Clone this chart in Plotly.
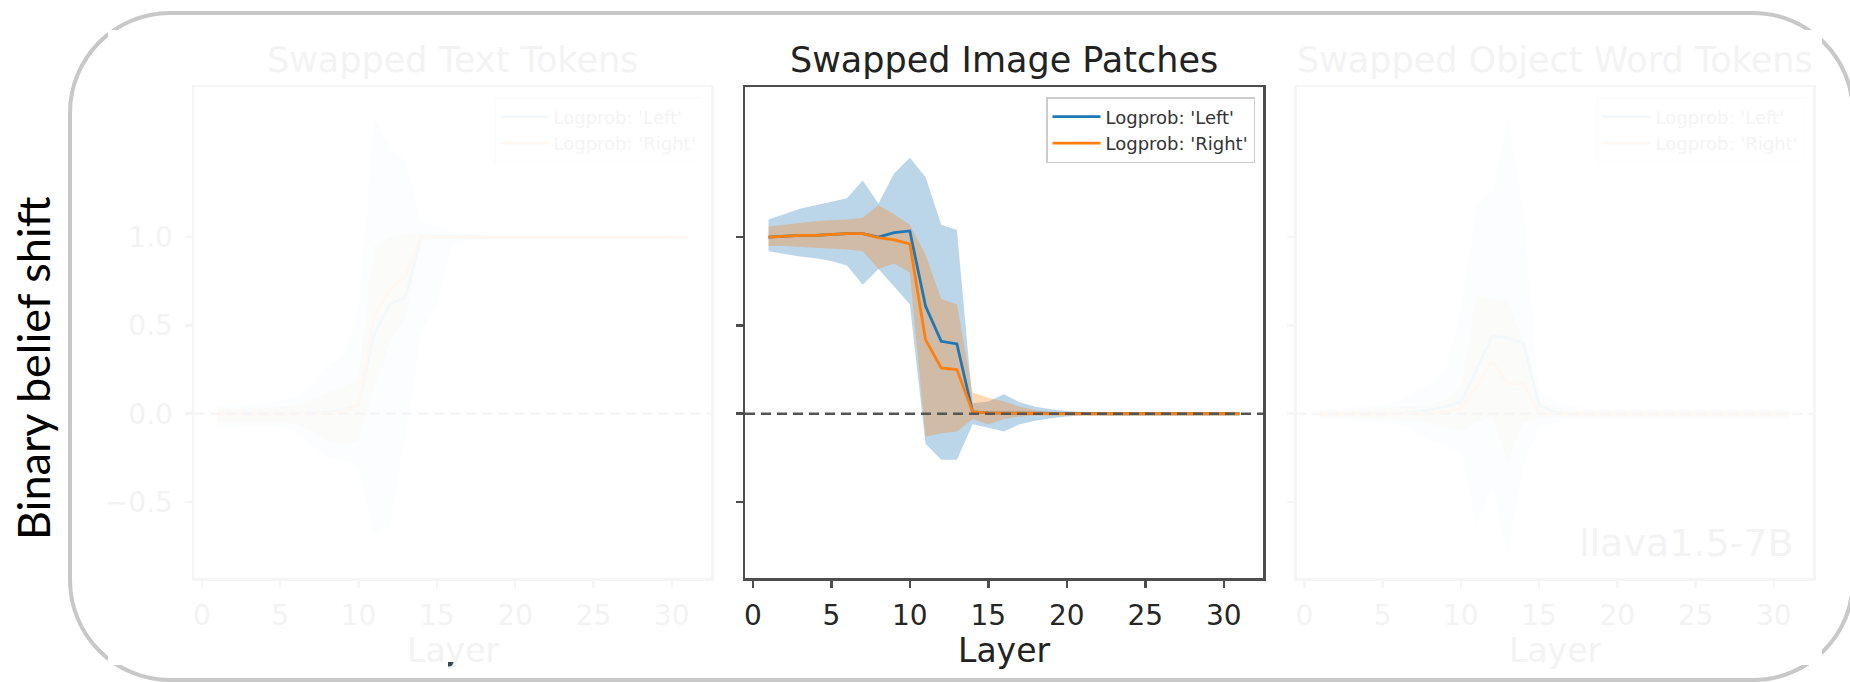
import plotly.graph_objects as go

W, H = 1850, 682

# ---------------- data ----------------
layers = list(range(1, 32))

# Middle panel: Swapped Image Patches
img_left_mean = [1.00, 1.005, 1.01, 1.01, 1.015, 1.02, 1.02, 1.00, 1.025, 1.035, 0.61, 0.41, 0.395, 0.01, 0.005,
                 0.004, 0.003, 0.002, 0.0, 0.0, 0.0, 0.0, 0.0, 0.0, 0.0, 0.0, 0.0, 0.0, 0.0, 0.0, 0.0]
img_right_mean = [1.00, 1.005, 1.01, 1.01, 1.015, 1.02, 1.02, 0.997, 0.985, 0.962, 0.42, 0.26, 0.25, 0.01, 0.005,
                  0.003, 0.002, 0.0, 0.0, 0.0, 0.0, 0.0, 0.0, 0.0, 0.0, 0.0, 0.0, 0.0, 0.0, 0.0, 0.0]
img_left_upper = [1.10, 1.13, 1.16, 1.18, 1.20, 1.22, 1.32, 1.19, 1.36, 1.45, 1.34, 1.07, 1.04, 0.06, 0.07,
                  0.11, 0.065, 0.04, 0.025, 0.015, 0.01, 0.008, 0.007, 0.006, 0.006, 0.005, 0.005, 0.005, 0.005, 0.005, 0.005]
img_left_lower = [0.92, 0.905, 0.89, 0.88, 0.865, 0.84, 0.73, 0.82, 0.72, 0.62, -0.17, -0.26, -0.26, -0.06, -0.08,
                  -0.10, -0.06, -0.04, -0.025, -0.015, -0.01, -0.008, -0.007, -0.006, -0.006, -0.005, -0.005, -0.005, -0.005, -0.005, -0.005]
img_right_upper = [1.06, 1.07, 1.08, 1.09, 1.095, 1.10, 1.11, 1.18, 1.13, 1.07, 0.90, 0.65, 0.62, 0.12, 0.09,
                   0.07, 0.04, 0.02, 0.01, 0.006, 0.005, 0.005, 0.005, 0.005, 0.005, 0.005, 0.005, 0.005, 0.005, 0.005, 0.005]
img_right_lower = [0.95, 0.95, 0.945, 0.94, 0.935, 0.93, 0.92, 0.82, 0.85, 0.80, -0.13, -0.11, -0.10, -0.03, -0.06,
                   -0.03, -0.015, -0.01, -0.006, -0.005, -0.005, -0.005, -0.005, -0.005, -0.005, -0.005, -0.005, -0.005, -0.005, -0.005, -0.005]

# Left panel (faded): Swapped Text Tokens
txt_left_mean = [0.0, 0.0, 0.0, 0.0, 0.0, 0.0, 0.005, 0.01, 0.02, 0.05, 0.45, 0.62, 0.66, 1.0, 1.0,
                 1.0, 1.0, 1.0, 1.0, 1.0, 1.0, 1.0, 1.0, 1.0, 1.0, 1.0, 1.0, 1.0, 1.0, 1.0, 1.0]
txt_right_mean = [0.0, 0.0, 0.0, 0.0, 0.0, 0.0, 0.0, 0.0, 0.01, 0.05, 0.55, 0.70, 0.78, 1.0, 1.0,
                  1.0, 1.0, 1.0, 1.0, 1.0, 1.0, 1.0, 1.0, 1.0, 1.0, 1.0, 1.0, 1.0, 1.0, 1.0, 1.0]
txt_left_upper = [0.05, 0.05, 0.05, 0.06, 0.07, 0.10, 0.15, 0.28, 0.32, 0.60, 1.68, 1.50, 1.44, 1.10, 1.06,
                  1.03, 1.02, 1.01, 1.01, 1.01, 1.01, 1.01, 1.01, 1.01, 1.01, 1.01, 1.01, 1.01, 1.01, 1.01, 1.01]
txt_left_lower = [-0.08, -0.08, -0.07, -0.07, -0.08, -0.10, -0.18, -0.25, -0.26, -0.30, -0.68, -0.64, -0.12, 0.45, 0.62,
                  0.95, 0.98, 0.99, 0.99, 0.99, 0.99, 0.99, 0.99, 0.99, 0.99, 0.99, 0.99, 0.99, 0.99, 0.99, 0.99]
txt_right_upper = [0.03, 0.03, 0.03, 0.04, 0.04, 0.05, 0.08, 0.12, 0.15, 0.20, 0.95, 1.00, 1.02, 1.02, 1.01,
                   1.01, 1.01, 1.01, 1.01, 1.01, 1.01, 1.01, 1.01, 1.01, 1.01, 1.01, 1.01, 1.01, 1.01, 1.01, 1.01]
txt_right_lower = [-0.05, -0.05, -0.05, -0.05, -0.05, -0.06, -0.10, -0.15, -0.18, -0.15, 0.15, 0.40, 0.55, 0.98, 0.99,
                   0.99, 0.99, 0.99, 0.99, 0.99, 0.99, 0.99, 0.99, 0.99, 0.99, 0.99, 0.99, 0.99, 0.99, 0.99, 0.99]

# Right panel (faded): Swapped Object Word Tokens
obj_left_mean = [0.0, 0.0, 0.0, 0.0, 0.0, 0.0, 0.01, 0.02, 0.04, 0.065, 0.25, 0.44, 0.43, 0.40, 0.05,
                 0.01, 0.0, 0.0, 0.0, 0.0, 0.0, 0.0, 0.0, 0.0, 0.0, 0.0, 0.0, 0.0, 0.0, 0.0, 0.0]
obj_right_mean = [0.0, 0.0, 0.0, 0.0, 0.0, 0.0, 0.0, 0.0, 0.01, 0.03, 0.15, 0.30, 0.17, 0.17, 0.0,
                  0.0, 0.0, 0.0, 0.0, 0.0, 0.0, 0.0, 0.0, 0.0, 0.0, 0.0, 0.0, 0.0, 0.0, 0.0, 0.0]
obj_left_upper = [0.03, 0.03, 0.04, 0.04, 0.05, 0.07, 0.12, 0.17, 0.25, 0.60, 1.18, 1.26, 1.68, 1.16, 0.12,
                  0.08, 0.05, 0.03, 0.03, 0.03, 0.03, 0.03, 0.03, 0.03, 0.03, 0.03, 0.03, 0.03, 0.03, 0.03, 0.03]
obj_left_lower = [-0.03, -0.03, -0.04, -0.04, -0.05, -0.06, -0.10, -0.15, -0.18, -0.22, -0.64, -0.42, -0.81, -0.30, -0.08,
                  -0.05, -0.03, -0.03, -0.03, -0.03, -0.03, -0.03, -0.03, -0.03, -0.03, -0.03, -0.03, -0.03, -0.03, -0.03, -0.03]
obj_right_upper = [0.02, 0.02, 0.02, 0.03, 0.03, 0.04, 0.04, 0.05, 0.08, 0.15, 0.67, 0.65, 0.64, 0.40, 0.08,
                   0.04, 0.02, 0.02, 0.02, 0.02, 0.02, 0.02, 0.02, 0.02, 0.02, 0.02, 0.02, 0.02, 0.02, 0.02, 0.02]
obj_right_lower = [-0.02, -0.02, -0.02, -0.03, -0.03, -0.04, -0.04, -0.05, -0.08, -0.10, -0.05, -0.02, -0.27, -0.05, -0.03,
                   -0.02, -0.02, -0.02, -0.02, -0.02, -0.02, -0.02, -0.02, -0.02, -0.02, -0.02, -0.02, -0.02, -0.02, -0.02, -0.02]

panel_titles = ["Swapped Text Tokens", "Swapped Image Patches", "Swapped Object Word Tokens"]
series_names = ["Logprob: 'Left'", "Logprob: 'Right'"]
x_tick_vals = [0, 5, 10, 15, 20, 25, 30]
y_tick_vals = [-0.5, 0.0, 0.5, 1.0]
y_tick_text = ["\u22120.5", "0.0", "0.5", "1.0"]
x_label = "Layer"
y_label = "Binary belief shift"
model_label = "llava1.5-7B"

# ---------------- styling helpers ----------------
BLUE = (31, 119, 180)
ORANGE = (255, 127, 14)


def fade(rgb, f):
    r, g, b = rgb
    return "rgb(%d,%d,%d)" % (round(255 - f * (255 - r)), round(255 - f * (255 - g)), round(255 - f * (255 - b)))


def px(x):
    return x / W


def py(y):
    return 1 - y / H


FONT = "DejaVu Sans"
FADE = 0.055

panels = [
    dict(data=(txt_left_mean, txt_right_mean, txt_left_upper, txt_left_lower, txt_right_upper, txt_right_lower),
         x0=194, x1=711, faded=True, legend="legend2", showy=True),
    dict(data=(img_left_mean, img_right_mean, img_left_upper, img_left_lower, img_right_upper, img_right_lower),
         x0=745, x1=1263, faded=False, legend="legend", showy=False),
    dict(data=(obj_left_mean, obj_right_mean, obj_left_upper, obj_left_lower, obj_right_upper, obj_right_lower),
         x0=1296.5, x1=1813, faded=True, legend="legend3", showy=False),
]

Y_TOP, Y_BOT = 87, 578
XRANGE = [-0.5, 32.5]
YRANGE = [-0.93, 1.85]

fig = go.Figure()
layout = dict(width=W, height=H, margin=dict(l=0, r=0, t=0, b=0), hovermode=False,
              paper_bgcolor="white", plot_bgcolor="rgba(0,0,0,0)", showlegend=True)
annotations = []
shapes = []

# frame (rounded rectangle) and white cover, drawn underneath everything
r = 100
k = 0.5523 * r
L, R, T, B = 70, 1853, 13, 680
pts = [("M", [(L + r, T)]), ("L", [(R - r, T)]),
       ("C", [(R - r + k, T), (R, T + r - k), (R, T + r)]), ("L", [(R, B - r)]),
       ("C", [(R, B - r + k), (R - r + k, B), (R - r, B)]), ("L", [(L + r, B)]),
       ("C", [(L + r - k, B), (L, B - r + k), (L, B - r)]), ("L", [(L, T + r)]),
       ("C", [(L, T + r - k), (L + r - k, T), (L + r, T)])]
path = " ".join(cmd + " " + " ".join("%.5f,%.5f" % (px(a), py(b)) for a, b in pp) for cmd, pp in pts) + " Z"
shapes.append(dict(type="path", path=path, xref="paper", yref="paper", layer="below",
                   line=dict(color="#c8c8c8", width=4)))
shapes.append(dict(type="rect", xref="paper", yref="paper", x0=px(108), x1=px(1822), y0=py(665), y1=py(30),
                   fillcolor="white", line=dict(width=0), layer="below"))
# small dark remnant mark below the left panel
shapes.append(dict(type="rect", xref="paper", yref="paper", x0=px(448), x1=px(454), y0=py(667), y1=py(662),
                   fillcolor="#444444", line=dict(width=0), layer="below"))

for i, p in enumerate(panels):
    n = i + 1
    xa = "x" if n == 1 else "x%d" % n
    ya = "y" if n == 1 else "y%d" % n
    xkey = "xaxis" if n == 1 else "xaxis%d" % n
    ykey = "yaxis" if n == 1 else "yaxis%d" % n
    f = FADE if p["faded"] else 1.0
    lm, rm, lu, ll, ru, rl = p["data"]

    spine = fade((77, 77, 77), f)
    txtc = fade((38, 38, 38), f)
    # bands
    for up, lo, col in ((lu, ll, BLUE), (ru, rl, ORANGE)):
        fig.add_trace(go.Scatter(x=layers + layers[::-1], y=up + lo[::-1], fill="toself",
                                 fillcolor="rgba(%d,%d,%d,%.4f)" % (col + (0.3 * f,)),
                                 line=dict(width=0), mode="lines", hoverinfo="skip", showlegend=False,
                                 xaxis=xa, yaxis=ya))
    # mean lines
    for mean, col, name in ((lm, BLUE, series_names[0]), (rm, ORANGE, series_names[1])):
        fig.add_trace(go.Scatter(x=layers, y=mean, mode="lines", name=name,
                                 line=dict(color=fade(col, f), width=2.8),
                                 xaxis=xa, yaxis=ya, legend=p["legend"]))

    layout[xkey] = dict(domain=[px(p["x0"]), px(p["x1"])], range=XRANGE, anchor=ya,
                        showline=True, mirror=True, linecolor=spine, linewidth=2.5,
                        ticks="outside", ticklen=7, tickwidth=2.5, tickcolor=spine,
                        tickvals=x_tick_vals, ticktext=[str(v) for v in x_tick_vals],
                        tickfont=dict(family=FONT, size=28, color=txtc),
                        showgrid=False, zeroline=False, ticklabelstandoff=4)
    layout[ykey] = dict(domain=[py(Y_BOT), py(Y_TOP)], range=YRANGE, anchor=xa,
                        showline=True, mirror=True, linecolor=spine, linewidth=2.5,
                        ticks="outside", ticklen=7, tickwidth=2.5, tickcolor=spine,
                        tickvals=y_tick_vals, ticktext=y_tick_text, showticklabels=p["showy"],
                        tickfont=dict(family=FONT, size=28, color=txtc),
                        showgrid=False, zeroline=False, ticklabelstandoff=6)

    # dashed zero reference line (drawn above data)
    shapes.append(dict(type="line", xref=xa + " domain", yref=ya, x0=0, x1=1, y0=0, y1=0,
                       line=dict(color=fade((85, 85, 85), f), width=2.5, dash="10px,6px"), layer="above"))

    cx = (p["x0"] + p["x1"]) / 2
    annotations.append(dict(text=panel_titles[i], x=px(cx), y=py(60), xref="paper", yref="paper",
                            showarrow=False, xanchor="center", yanchor="middle",
                            font=dict(family=FONT, size=35, color=fade((34, 34, 34), f))))
    annotations.append(dict(text=x_label, x=px(cx), y=py(650), xref="paper", yref="paper",
                            showarrow=False, xanchor="center", yanchor="middle",
                            font=dict(family=FONT, size=33, color=fade((34, 34, 34), f))))

    leg_right = p["x1"] - 8
    layout[p["legend"]] = dict(x=px(leg_right), xanchor="right", y=py(97), yanchor="top",
                               bgcolor="rgba(255,255,255,0.8)", bordercolor=fade((204, 204, 204), f),
                               borderwidth=1.5, itemwidth=48, tracegroupgap=0,
                               font=dict(family=FONT, size=18, color=fade((51, 51, 51), f)))

annotations.append(dict(text=model_label, x=px(1796), y=py(543), xref="paper", yref="paper",
                        showarrow=False, xanchor="right", yanchor="middle",
                        font=dict(family=FONT, size=38, color=fade((34, 34, 34), FADE))))
annotations.append(dict(text=y_label, x=px(33), y=py(368), xref="paper", yref="paper",
                        showarrow=False, xanchor="center", yanchor="middle", textangle=-90,
                        font=dict(family="Lato", size=45, color="black")))

layout["annotations"] = annotations
layout["shapes"] = shapes
fig.update_layout(**layout)
fig.write_html("out.html", config={"displayModeBar": False, "staticPlot": True},
               post_script="document.body.style.margin='0';document.body.style.overflow='hidden';")
